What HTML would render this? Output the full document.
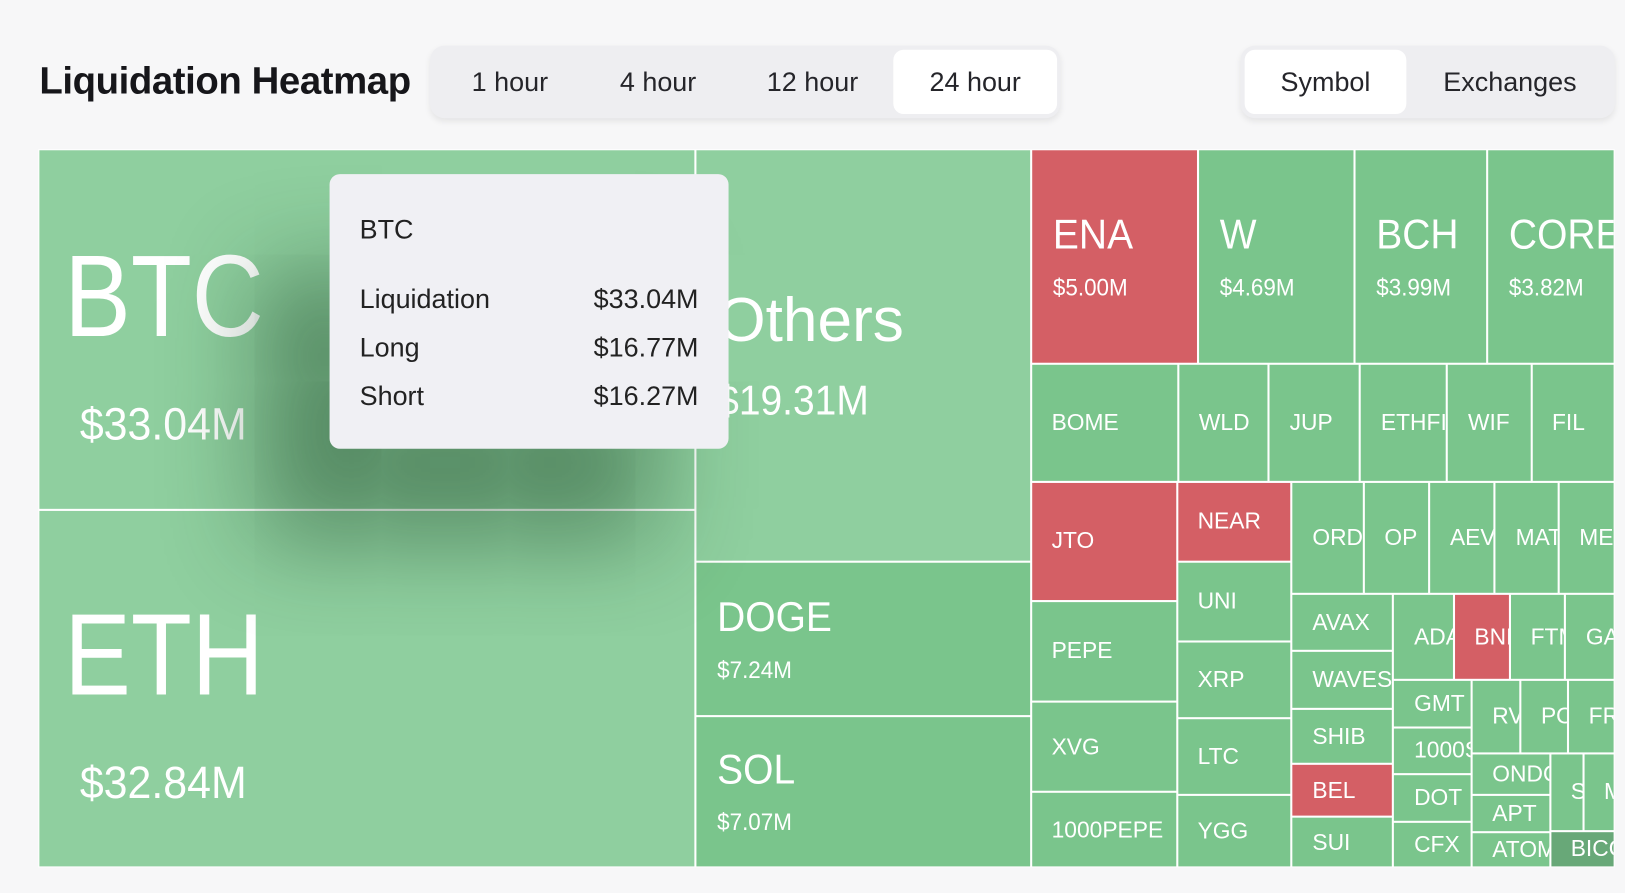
<!DOCTYPE html>
<html><head><meta charset="utf-8"><style>
html,body{margin:0;padding:0;width:1625px;height:893px;overflow:hidden;background:#f7f7f8;font-family:"Liberation Sans",sans-serif;}
#stage{position:absolute;left:0;top:0;width:1568px;height:862px;transform:scale(1.03635);transform-origin:0 0;}
.title{position:absolute;left:38px;top:57px;font-size:37px;font-weight:bold;letter-spacing:-0.4px;color:#16161a;}
.tabs{position:absolute;height:70px;top:44px;background:#eeeef1;border-radius:14px;box-shadow:0 3px 6px rgba(0,0,0,0.08);}
.tab{position:absolute;top:4px;height:62px;line-height:62px;text-align:center;font-size:26px;color:#25252a;border-radius:10px;}
.tab.on{background:#fff;}
#chart{position:absolute;left:37px;top:144px;width:1521px;height:693px;background:#fff;overflow:hidden;}
.tile{position:absolute;overflow:hidden;color:#fff;display:flex;flex-direction:column;justify-content:center;box-sizing:border-box;white-space:nowrap;}
.tip{position:absolute;left:318px;top:168px;width:385px;height:265px;background:#f0f0f4;border-radius:10px;box-shadow:-70px 90px 90px rgba(20,60,30,0.45);color:#222;font-size:26px;}
.tip div{position:absolute;}
</style></head><body>
<div id="stage">
<div class="title">Liquidation Heatmap</div>
<div class="tabs" style="left:415px;width:608px">
<div class="tab" style="left:37px;width:80px">1 hour</div>
<div class="tab" style="left:178px;width:84px">4 hour</div>
<div class="tab" style="left:320px;width:98px">12 hour</div>
<div class="tab on" style="left:447px;width:158px">24 hour</div>
</div>
<div class="tabs" style="left:1197px;width:361px">
<div class="tab on" style="left:4px;width:156px">Symbol</div>
<div class="tab" style="left:180px;width:160px">Exchanges</div>
</div>
<div id="chart"></div>
<div class="tip">
<div style="left:29px;top:38px">BTC</div>
<div style="left:29px;top:105px">Liquidation</div>
<div style="right:29px;top:105px">$33.04M</div>
<div style="left:29px;top:152px">Long</div>
<div style="right:29px;top:152px">$16.77M</div>
<div style="left:29px;top:199px">Short</div>
<div style="right:29px;top:199px">$16.27M</div>
</div>
</div>
<script>
const symbols=["BTC","ETH","Others","DOGE","SOL","ENA","W","BCH","CORE","BOME","WLD","JUP","ETHFI","WIF","FIL","JTO","PEPE","XVG","1000PEPE","NEAR","UNI","XRP","LTC","YGG","ORDI","OP","AEVO","MATIC","MEME","AVAX","WAVES","SHIB","BEL","SUI","ADA","BNB","FTM","GALA","GMT","1000SATS","DOT","CFX","RVN","POL","FRONT","ONDO","APT","ATOM","STX","MKR","BICO"];
const values=[33.04,32.84,19.31,7.24,7.07,5.00,4.69,3.99,3.82,2.42,1.49,1.50,1.43,1.38,1.37,2.43,2.05,1.84,1.54,1.28,1.28,1.23,1.23,1.16,1.13,1.03,1.03,1.00,0.88,0.81,0.82,0.78,0.75,0.72,0.72,0.67,0.66,0.59,0.52,0.51,0.52,0.50,0.50,0.49,0.48,0.46,0.40,0.39,0.36,0.34,0.33];
const colorKeys=["L","L","L","G","G","R","G","G","G","G","G","G","G","G","G","R","G","G","G","R","G","G","G","G","G","G","G","G","G","G","G","G","R","G","G","R","G","G","G","G","G","G","G","G","G","G","G","G","G","G","D"];
const showValue=["BTC","ETH","Others","DOGE","SOL","ENA","W","BCH","CORE"];
const palette={L:"#8fcf9f",G:"#7ac58c",R:"#d45f65",D:"#68a878"};
function H(...c){return {d:"h",c:c};}
function V(...c){return {d:"v",c:c};}
const nStxBico=V(H("STX","MKR"),"BICO");
const nOndo=H(V("ONDO","APT","ATOM"),nStxBico);
const nRvn=V(H("RVN","POL","FRONT"),nOndo);
const nGmt=H(V("GMT","1000SATS","DOT","CFX"),nRvn);
const nAda=V(H("ADA","BNB","FTM","GALA"),nGmt);
const nAvax=H(V("AVAX","WAVES","SHIB","BEL","SUI"),nAda);
const nOrdi=V(H("ORDI","OP","AEVO","MATIC","MEME"),nAvax);
const nRest=H(V("JTO","PEPE","XVG","1000PEPE"),V("NEAR","UNI","XRP","LTC","YGG"),nOrdi);
const nRight=V(H("ENA","W","BCH","CORE"),H("BOME","WLD","JUP","ETHFI","WIF","FIL"),nRest);
const tree=H(V("BTC","ETH"),V("Others","DOGE","SOL"),nRight);
const chart=document.getElementById('chart');
function total(n){if(typeof n==="string")return values[symbols.indexOf(n)];return n.c.reduce((s,k)=>s+total(k),0);}
function fmt(v){return "$"+v.toFixed(2)+"M";}
function leaf(name,x,y,w,h){
 const i=symbols.indexOf(name);
 const d=document.createElement('div');
 d.className='tile';
 
 
 d.style.left=(x+1)+'px';d.style.top=(y+1)+'px';d.style.width=(w-2)+'px';d.style.height=(h-2)+'px';
 d.style.background=palette[colorKeys[i]];
 const m=Math.min(w,h);
 let ns,vs,pad,gap,sx=1,pt=0;
 if(m>=330){ns=112;vs=44;pad=24;gap=46;sx=0.86;pt=26;}
 else if(m>=300){ns=60;vs=40;pad=20;gap=28;}
 else if(h>=140&&w>=100){ns=40;vs=23;pad=20;gap=19;sx=0.94;}
 else{ns=22;vs=0;pad=19;gap=0;}
 d.style.paddingLeft=pad+'px';
 d.style.paddingTop=pt+'px';
 const t=document.createElement('div');
 
 
 t.style.fontSize=ns+'px';t.style.lineHeight='1';t.textContent=name;
 t.style.transform='scaleX('+sx+')';t.style.transformOrigin='0 0';
 d.appendChild(t);
 if(vs&&showValue.includes(name)){
  const v=document.createElement('div');
  
  
  v.style.fontSize=vs+'px';v.style.lineHeight='1';v.style.marginTop=gap+'px';
  v.style.paddingLeft=(ns>100?16:0)+'px';
  v.style.transform='scaleX(0.94)';v.style.transformOrigin='0 0';
  v.textContent=fmt(values[i]);
  d.appendChild(v);
 }
 chart.appendChild(d);
}
function layout(n,x,y,w,h){
 if(typeof n==="string"){leaf(n,x,y,w,h);return;}
 const T=total(n);let off=0;
 n.c.forEach(k=>{const f=total(k)/T;
  if(n.d==="h"){const cw=w*f;layout(k,x+off,y,cw,h);off+=cw;}
  else{const ch=h*f;layout(k,x,y+off,w,ch);off+=ch;}});
}
layout(tree,0,0,1521,693);
</script>
</body></html>
